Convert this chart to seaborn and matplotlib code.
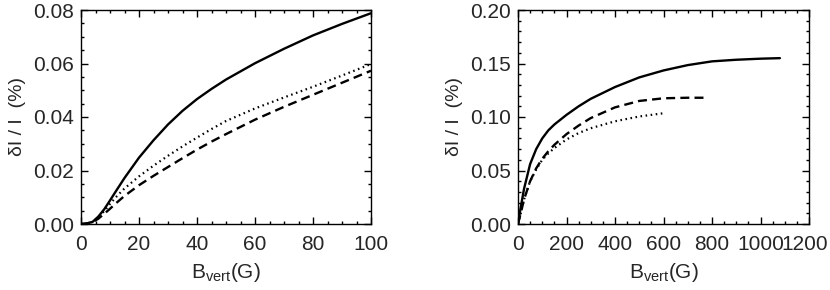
import matplotlib
matplotlib.use("Agg")
import matplotlib.pyplot as plt
import matplotlib.transforms as mtransforms
import seaborn as sns
import pandas as pd
from matplotlib.ticker import MultipleLocator

# ---- data ----
left_x = [0, 2, 4, 6, 8, 10, 12, 15, 20, 25, 30, 35, 40, 45, 50, 60, 70, 80, 90, 100]
left_solid = [0, 0.0002, 0.0008, 0.0028, 0.0055, 0.0088, 0.0122, 0.0172, 0.0248, 0.0313,
              0.0372, 0.0423, 0.0467, 0.0505, 0.0540, 0.0601, 0.0655, 0.0705, 0.0748, 0.0788]
left_dotted = [0, 0.0002, 0.0008, 0.0026, 0.0048, 0.0075, 0.0100, 0.0133, 0.0178, 0.0218,
               0.0255, 0.0290, 0.0323, 0.0355, 0.0385, 0.0432, 0.0473, 0.0513, 0.0555, 0.0598]
left_dashed = [0, 0.0002, 0.0007, 0.0020, 0.0038, 0.0057, 0.0077, 0.0105, 0.0145, 0.0180,
               0.0213, 0.0246, 0.0278, 0.0308, 0.0336, 0.0390, 0.0438, 0.0483, 0.0528, 0.0573]

right_solid_x = [0, 10, 25, 50, 75, 100, 125, 150, 200, 250, 300, 400, 500, 600, 700, 800,
                 900, 1000, 1080]
right_solid = [0, 0.014, 0.033, 0.056, 0.070, 0.080, 0.0875, 0.093, 0.102, 0.110, 0.117,
               0.128, 0.137, 0.1435, 0.1485, 0.152, 0.1535, 0.1545, 0.155]
right_dashed_x = [0, 10, 25, 50, 75, 100, 125, 150, 200, 250, 300, 400, 500, 600, 700, 780]
right_dashed = [0, 0.009, 0.023, 0.040, 0.052, 0.061, 0.068, 0.074, 0.084, 0.092, 0.099,
                0.109, 0.115, 0.1175, 0.118, 0.118]
right_dotted_x = [0, 10, 25, 50, 75, 100, 125, 150, 200, 250, 300, 400, 500, 600]
right_dotted = [0, 0.009, 0.023, 0.040, 0.051, 0.060, 0.066, 0.071, 0.079, 0.085, 0.0895,
                0.096, 0.1005, 0.1035]

left_xticks = [0, 20, 40, 60, 80, 100]
left_yticks = [0.00, 0.02, 0.04, 0.06, 0.08]
right_xticks = [0, 200, 400, 600, 800, 1000, 1200]
right_yticks = [0.00, 0.05, 0.10, 0.15, 0.20]

xlabel = r"B$_{vert}$(G)"
ylabel = "δI / I  (%)"

# ---- style ----
sns.set_theme(style="ticks")
plt.rcParams["font.family"] = ["Liberation Sans", "DejaVu Sans"]
plt.rcParams["mathtext.default"] = "regular"
plt.rcParams["axes.edgecolor"] = "black"
plt.rcParams["axes.linewidth"] = 1.0

fig = plt.figure(figsize=(8.3, 2.9), dpi=100)
ax1 = fig.add_axes([81 / 830, 66 / 290, 290 / 830, 214 / 290])
ax2 = fig.add_axes([518 / 830, 66 / 290, 291 / 830, 214 / 290])

solid_style = dict(color="black", linewidth=1.7)
dash_style = dict(color="black", linewidth=1.7, linestyle=(0, (3.8, 2.2)))
dot_style = dict(color="black", linewidth=1.6, linestyle=(0, (0.7, 1.6)))

df_l = pd.DataFrame({"x": left_x, "solid": left_solid, "dotted": left_dotted, "dashed": left_dashed})
sns.lineplot(data=df_l, x="x", y="solid", ax=ax1, **solid_style)
sns.lineplot(data=df_l, x="x", y="dotted", ax=ax1, **dot_style)
sns.lineplot(data=df_l, x="x", y="dashed", ax=ax1, **dash_style)

sns.lineplot(x=right_solid_x, y=right_solid, ax=ax2, **solid_style)
sns.lineplot(x=right_dashed_x, y=right_dashed, ax=ax2, **dash_style)
sns.lineplot(x=right_dotted_x, y=right_dotted, ax=ax2, **dot_style)

ax1.set_xlim(0, 100)
ax1.set_ylim(0, 0.08)
ax1.set_xticks(left_xticks)
ax1.set_yticks(left_yticks)
ax1.set_xticklabels([str(t) for t in left_xticks])
ax1.set_yticklabels([f"{t:.2f}" for t in left_yticks])
ax1.xaxis.set_minor_locator(MultipleLocator(5))
ax1.yaxis.set_minor_locator(MultipleLocator(0.005))

ax2.set_xlim(0, 1200)
ax2.set_ylim(0, 0.2)
ax2.set_xticks(right_xticks)
ax2.set_yticks(right_yticks)
ax2.set_xticklabels([str(t) for t in right_xticks])
ax2.set_yticklabels([f"{t:.2f}" for t in right_yticks])
ax2.xaxis.set_minor_locator(MultipleLocator(50))
ax2.yaxis.set_minor_locator(MultipleLocator(0.01))

for ax in (ax1, ax2):
    for s in ax.spines.values():
        s.set_visible(True)
        s.set_color("black")
        s.set_linewidth(1.0)
    ax.tick_params(which="both", direction="in", top=True, right=True,
                   color="black", width=1.0)
    ax.tick_params(which="major", length=5, labelsize=15)
    ax.tick_params(axis="y", which="major", pad=5)
    ax.tick_params(axis="x", which="major", pad=8)
    ax.tick_params(which="minor", length=2.5)
    ax.set_xlabel(xlabel, fontsize=15, labelpad=5)
    ax.set_ylabel(ylabel, fontsize=14, labelpad=5)
    ax.grid(False)

# nudge the last tick label so it stays inside the canvas (as in the reference)
last = ax2.get_xticklabels()[-1]
last.set_transform(last.get_transform() +
                   mtransforms.ScaledTranslation(-4 / 100, 0, fig.dpi_scale_trans))

fig.savefig("out.png", dpi=100)
